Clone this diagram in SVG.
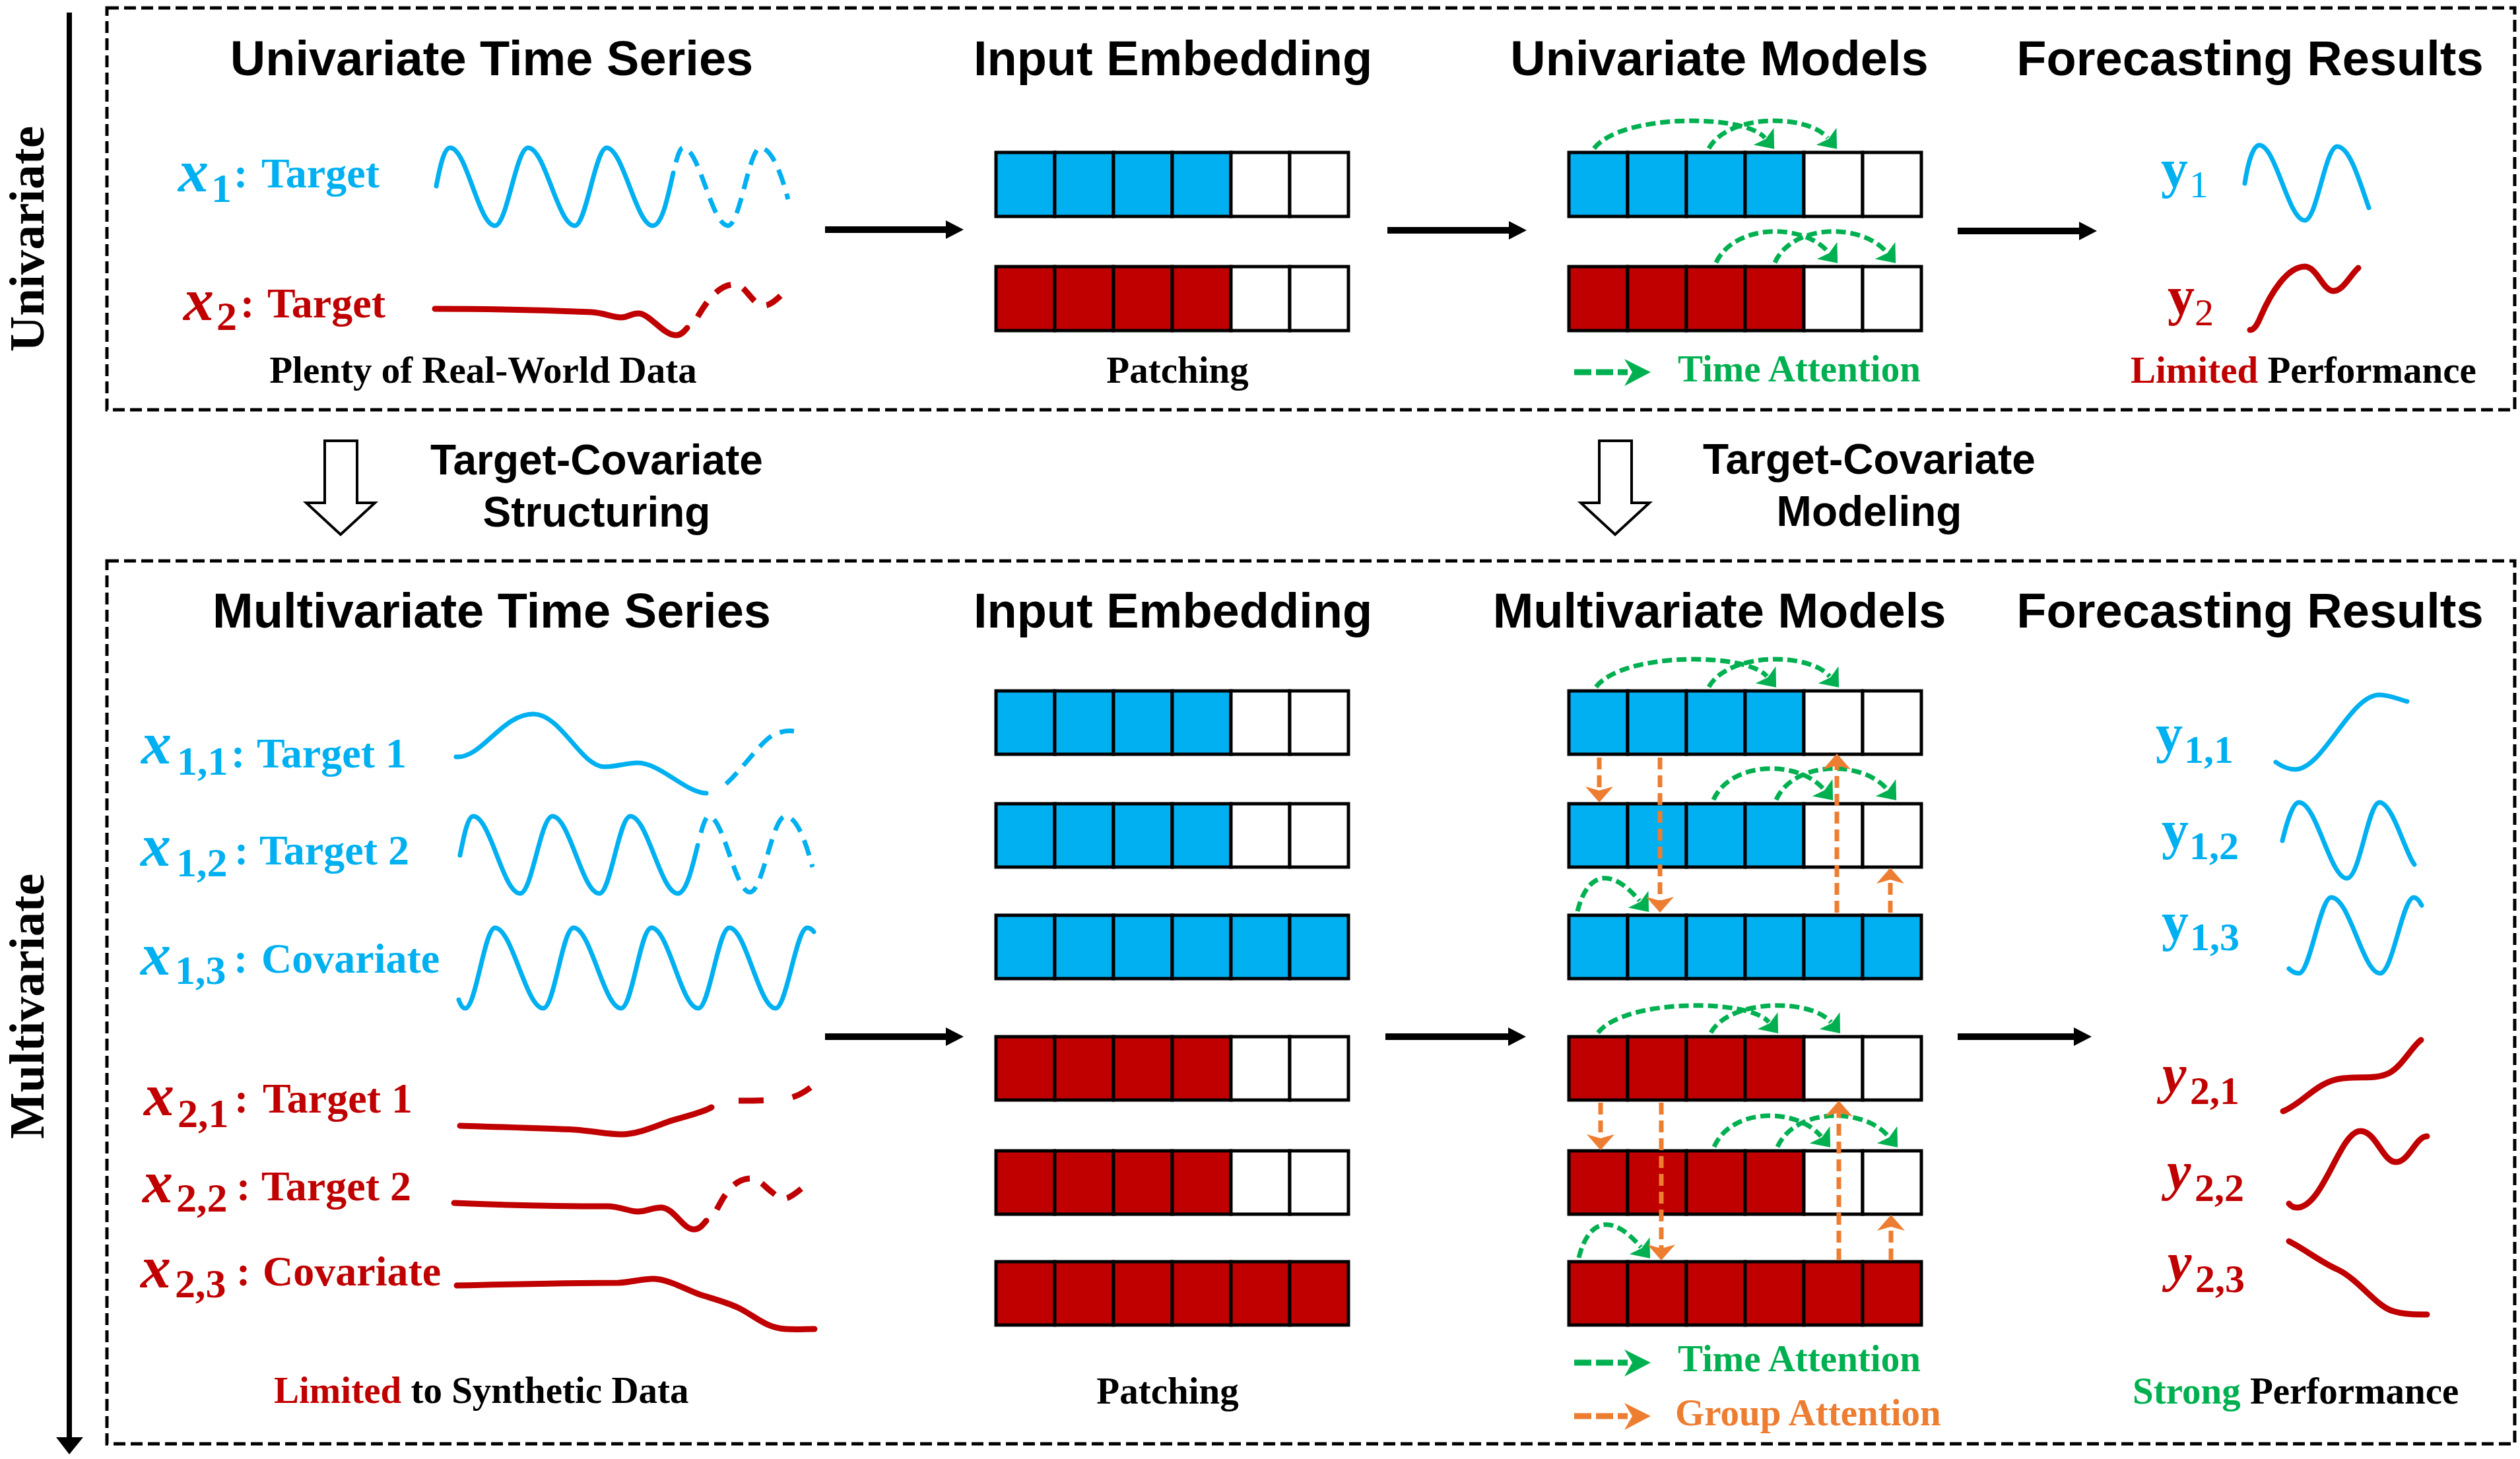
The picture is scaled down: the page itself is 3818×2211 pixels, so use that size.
<svg xmlns="http://www.w3.org/2000/svg" width="3818" height="2211" viewBox="0 0 3818 2211">
<style>
.box{fill:none;stroke:#000;stroke-width:5;stroke-dasharray:18 8}
.h{font-family:"Liberation Sans",Arial,sans-serif;font-weight:bold;font-size:74px;text-anchor:middle;fill:#000}
.m{font-family:"Liberation Sans",Arial,sans-serif;font-weight:bold;font-size:64px;text-anchor:middle;fill:#000}
.t{font-family:"Liberation Serif","Times New Roman",serif;font-weight:bold;font-size:57px;fill:#000}
.side{font-family:"Liberation Serif","Times New Roman",serif;font-weight:bold;font-size:74px;text-anchor:middle;fill:#000}
.lb{font-family:"Liberation Serif","Times New Roman",serif;font-weight:bold;font-size:64px}
.mx{font-family:"Liberation Serif","Times New Roman",serif;font-weight:bold;font-style:italic;font-size:92px}
.sb{font-family:"Liberation Serif","Times New Roman",serif;font-weight:bold;font-size:62px}
.fy{font-family:"Liberation Serif","Times New Roman",serif;font-weight:bold;font-size:82px}
.fyi{font-family:"Liberation Serif","Times New Roman",serif;font-weight:bold;font-style:italic;font-size:82px}
.fs{font-family:"Liberation Serif","Times New Roman",serif;font-weight:bold;font-size:60px}
.fs0{font-family:"Liberation Serif","Times New Roman",serif;font-size:58px}
.blue{fill:#00B0F0}.red{fill:#C00000}.green{fill:#00B050}.orange{fill:#ED7D31}
.cb{fill:#00B0F0;stroke:#000;stroke-width:5}
.cr{fill:#C00000;stroke:#000;stroke-width:5}
.cw{fill:#fff;stroke:#000;stroke-width:5}
.ta{fill:none;stroke:#00B050;stroke-width:7;stroke-dasharray:15 7;marker-end:url(#mg)}
.ga{fill:none;stroke:#ED7D31;stroke-width:7;stroke-dasharray:18 9;marker-end:url(#mo)}
.ar{stroke:#000;stroke-width:10;marker-end:url(#mk)}
.cvb{fill:none;stroke:#00B0F0;stroke-width:7;stroke-linecap:round}
.cvr{fill:none;stroke:#C00000;stroke-width:9;stroke-linecap:round}
.db{fill:none;stroke:#00B0F0;stroke-width:7;stroke-dasharray:24 14}
.dr{fill:none;stroke:#C00000;stroke-width:9;stroke-dasharray:26 20}
.hol{fill:#fff;stroke:#000;stroke-width:4}
</style>
<defs>
<marker id="mg" markerUnits="userSpaceOnUse" viewBox="-30 -30 60 60" markerWidth="60" markerHeight="60" refX="0" refY="0" orient="auto" overflow="visible"><path d="M22,0 L-3,-20 L2,0 L-3,20 Z" fill="#00B050"/></marker>
<marker id="mo" markerUnits="userSpaceOnUse" viewBox="-30 -30 60 60" markerWidth="60" markerHeight="60" refX="0" refY="0" orient="auto" overflow="visible"><path d="M18,0 L-6,-21 L0,0 L-6,21 Z" fill="#ED7D31"/></marker>
<marker id="mk" markerUnits="userSpaceOnUse" viewBox="-30 -30 60 60" markerWidth="60" markerHeight="60" refX="0" refY="0" orient="auto" overflow="visible"><path d="M27,0 L0,-14 L0,14 Z" fill="#000"/></marker>
</defs>
<rect width="3818" height="2211" fill="#fff"/>

<g id="axis">
<line x1="105" y1="19" x2="105" y2="2180" stroke="#000" stroke-width="8"/>
<polygon points="85,2178 126,2178 105,2204" fill="#000"/>
<text class="side" transform="translate(66,362) rotate(-90)" textLength="342" lengthAdjust="spacingAndGlyphs">Univariate</text>
<text class="side" transform="translate(66,1525) rotate(-90)" textLength="402" lengthAdjust="spacingAndGlyphs">Multivariate</text>
</g>

<g id="frames">
<rect class="box" x="162" y="12" width="3648" height="609"/>
<rect class="box" x="162" y="850" width="3648" height="1338"/>
</g>

<g id="titles">
<text class="h" x="745" y="114">Univariate Time Series</text>
<text class="h" x="1777" y="114">Input Embedding</text>
<text class="h" x="2605" y="114">Univariate Models</text>
<text class="h" x="3409" y="114">Forecasting Results</text>
<text class="h" x="745" y="951">Multivariate Time Series</text>
<text class="h" x="1777" y="951">Input Embedding</text>
<text class="h" x="2605" y="951">Multivariate Models</text>
<text class="h" x="3409" y="951">Forecasting Results</text>
</g>

<g id="transition-structuring">
<polygon class="hol" points="492,668 541,668 541,762 568,762 516,810 464,762 492,762"/>
<text class="m" x="904" y="719">Target-Covariate</text>
<text class="m" x="904" y="798">Structuring</text>
</g>
<g id="transition-modeling">
<polygon class="hol" points="2423,668 2472,668 2472,762 2499,762 2447,810 2395,762 2423,762"/>
<text class="m" x="2832" y="718">Target-Covariate</text>
<text class="m" x="2832" y="797">Modeling</text>
</g>

<!-- Univariate series -->
<g id="uni-x1">
<text class="blue"><tspan class="mx" x="270" y="290">x</tspan><tspan class="sb" x="320" y="306">1</tspan><tspan class="lb" x="354" y="284">:</tspan><tspan class="lb" x="396" y="284">Target</tspan></text>
<path class="cvb" d="M661,282 C667,250 673,224 682,224 C707,224 725,342 750,342 C768,342 782,224 800,224 C826,224 845,342 871,342 C888,342 902,224 919,224 C944,224 964,342 989,342 C1004,342 1013,292 1020,262"/>
<path class="db" d="M1024,246 C1028,232 1031,224 1035,224 C1060,224 1078,342 1103,342 C1121,342 1135,224 1152,224 C1170,224 1185,268 1194,302"/>
</g>
<g id="uni-x2">
<text class="red"><tspan class="mx" x="278" y="485">x</tspan><tspan class="sb" x="328" y="500">2</tspan><tspan class="lb" x="364" y="481">:</tspan><tspan class="lb" x="405" y="481">Target</tspan></text>
<path class="cvr" d="M659,468 C720,468 820,470 896,473 C915,474 928,481 941,481 C952,481 958,474 968,475 C985,476 1005,508 1024,508 C1032,508 1037,502 1041,497"/>
<path class="dr" d="M1057,480 C1070,458 1088,431 1113,431 C1130,431 1140,463 1157,463 C1172,463 1182,447 1196,436"/>
</g>
<text id="uni-data-note" class="t" x="732" y="580" text-anchor="middle">Plenty of Real-World Data</text>

<!-- Univariate embedding -->
<g id="uni-emb-1"><rect class="cb" x="1509" y="231" width="89" height="97"/><rect class="cb" x="1598" y="231" width="89" height="97"/><rect class="cb" x="1687" y="231" width="89" height="97"/><rect class="cb" x="1776" y="231" width="89" height="97"/><rect class="cw" x="1865" y="231" width="89" height="97"/><rect class="cw" x="1954" y="231" width="89" height="97"/></g>
<g id="uni-emb-2"><rect class="cr" x="1509" y="404" width="89" height="97"/><rect class="cr" x="1598" y="404" width="89" height="97"/><rect class="cr" x="1687" y="404" width="89" height="97"/><rect class="cr" x="1776" y="404" width="89" height="97"/><rect class="cw" x="1865" y="404" width="89" height="97"/><rect class="cw" x="1954" y="404" width="89" height="97"/></g>
<text id="uni-patching" class="t" x="1784" y="580" text-anchor="middle">Patching</text>

<!-- Univariate models -->
<g id="uni-mod-1"><rect class="cb" x="2377" y="231" width="89" height="97"/><rect class="cb" x="2466" y="231" width="89" height="97"/><rect class="cb" x="2555" y="231" width="89" height="97"/><rect class="cb" x="2644" y="231" width="89" height="97"/><rect class="cw" x="2733" y="231" width="89" height="97"/><rect class="cw" x="2822" y="231" width="89" height="97"/></g>
<g id="uni-mod-2"><rect class="cr" x="2377" y="404" width="89" height="97"/><rect class="cr" x="2466" y="404" width="89" height="97"/><rect class="cr" x="2555" y="404" width="89" height="97"/><rect class="cr" x="2644" y="404" width="89" height="97"/><rect class="cw" x="2733" y="404" width="89" height="97"/><rect class="cw" x="2822" y="404" width="89" height="97"/></g>
<g id="uni-legend">
<line x1="2385" y1="564" x2="2466" y2="564" stroke="#00B050" stroke-width="9" stroke-dasharray="26 7"/>
<polygon points="2501,564 2461,544 2473,564 2461,585" fill="#00B050"/>
<text class="t green" x="2542" y="578">Time Attention</text>
</g>

<!-- Univariate results -->
<g id="uni-y1">
<text class="blue"><tspan class="fy" x="3274" y="283">y</tspan><tspan class="fs0" x="3317" y="299">1</tspan></text>
<path class="cvb" d="M3401,278 C3406,245 3414,220 3423,220 C3448,220 3467,334 3492,334 C3510,334 3523,222 3541,222 C3560,222 3575,275 3589,315"/>
</g>
<g id="uni-y2">
<text class="red"><tspan class="fy" x="3284" y="476">y</tspan><tspan class="fs0" x="3325" y="493">2</tspan></text>
<path class="cvr" d="M3409,500 C3415,500 3420,492 3425,480 C3440,445 3465,404 3492,404 C3510,404 3520,441 3535,441 C3550,441 3560,418 3573,406"/>
</g>
<text id="uni-perf" class="t" x="3228" y="580"><tspan class="red">Limited</tspan> Performance</text>

<!-- Multivariate series -->
<g id="mv-x11">
<text class="blue"><tspan class="mx" x="214" y="1157">x</tspan><tspan class="sb" x="268" y="1174">1,1</tspan><tspan class="lb" x="350" y="1163">:</tspan><tspan class="lb" x="389" y="1163">Target 1</tspan></text>
<path class="cvb" d="M691,1147 C730,1150 760,1082 808,1082 C850,1082 880,1162 916,1162 C935,1162 950,1156 966,1156 C1000,1156 1040,1202 1070,1202"/>
<path class="db" d="M1100,1188 C1130,1160 1155,1120 1175,1112 C1185,1108 1195,1107 1203,1108"/>
</g>
<g id="mv-x12">
<text class="blue"><tspan class="mx" x="213" y="1312">x</tspan><tspan class="sb" x="267" y="1328">1,2</tspan><tspan class="lb" x="355" y="1310">:</tspan><tspan class="lb" x="393" y="1310">Target 2</tspan></text>
<path class="cvb" d="M697,1296 C703,1265 709,1237 717,1237 C743,1237 762,1354 788,1354 C806,1354 819,1237 837,1237 C863,1237 882,1354 908,1354 C925,1354 938,1237 955,1237 C981,1237 1001,1354 1027,1354 C1040,1354 1050,1310 1057,1281"/>
<path class="db" d="M1062,1262 C1066,1247 1070,1237 1074,1237 C1096,1237 1114,1352 1136,1352 C1156,1352 1170,1237 1190,1237 C1208,1237 1222,1280 1231,1314"/>
</g>
<g id="mv-x13">
<text class="blue"><tspan class="mx" x="213" y="1477">x</tspan><tspan class="sb" x="265" y="1491">1,3</tspan><tspan class="lb" x="354" y="1474">:</tspan><tspan class="lb" x="396" y="1474">Covariate</tspan></text>
<path class="cvb" d="M695,1515 C698,1524 701,1528 705,1528 C721,1528 734,1406 750,1406 C776,1406 797,1528 823,1528 C840,1528 852,1406 869,1406 C895,1406 915,1528 941,1528 C958,1528 970,1406 987,1406 C1013,1406 1032,1528 1058,1528 C1075,1528 1088,1406 1105,1406 C1130,1406 1150,1528 1175,1528 C1192,1528 1206,1406 1223,1406 C1227,1406 1230,1408 1233,1412"/>
</g>
<g id="mv-x21">
<text class="red"><tspan class="mx" x="218" y="1690">x</tspan><tspan class="sb" x="269" y="1708">2,1</tspan><tspan class="lb" x="355" y="1686">:</tspan><tspan class="lb" x="398" y="1686">Target 1</tspan></text>
<path class="cvr" d="M697,1706 C760,1708 830,1710 871,1712 C900,1714 920,1719 941,1719 C965,1719 990,1708 1012,1700 C1035,1692 1060,1688 1078,1678"/>
<path class="dr" style="stroke-dasharray:38 44" d="M1119,1668 C1140,1668 1180,1668 1200,1663 C1210,1660 1220,1654 1228,1648"/>
</g>
<g id="mv-x22">
<text class="red"><tspan class="mx" x="216" y="1822">x</tspan><tspan class="sb" x="267" y="1836">2,2</tspan><tspan class="lb" x="358" y="1819">:</tspan><tspan class="lb" x="396" y="1819">Target 2</tspan></text>
<path class="cvr" d="M688,1823 C760,1826 850,1828 920,1828 C940,1828 952,1836 966,1836 C980,1836 990,1829 1003,1830 C1022,1832 1035,1863 1051,1863 C1060,1863 1065,1856 1070,1850"/>
<path class="dr" d="M1086,1833 C1097,1812 1110,1788 1135,1786 C1150,1785 1160,1800 1169,1806 C1178,1814 1184,1817 1190,1816 C1200,1815 1215,1800 1228,1790"/>
</g>
<g id="mv-x23">
<text class="red"><tspan class="mx" x="213" y="1951">x</tspan><tspan class="sb" x="265" y="1966">2,3</tspan><tspan class="lb" x="358" y="1948">:</tspan><tspan class="lb" x="398" y="1948">Covariate</tspan></text>
<path class="cvr" d="M692,1948 C780,1946 880,1944 937,1944 C960,1943 975,1937 991,1938 C1015,1939 1040,1955 1061,1962 C1080,1968 1100,1973 1119,1982 C1145,1995 1160,2012 1190,2014 C1205,2015 1220,2014 1234,2014"/>
</g>
<text id="mv-data-note" class="t" x="415" y="2126"><tspan class="red">Limited</tspan> to Synthetic Data</text>

<!-- Multivariate embedding -->
<g id="mv-emb-1"><rect class="cb" x="1509" y="1047" width="89" height="96"/><rect class="cb" x="1598" y="1047" width="89" height="96"/><rect class="cb" x="1687" y="1047" width="89" height="96"/><rect class="cb" x="1776" y="1047" width="89" height="96"/><rect class="cw" x="1865" y="1047" width="89" height="96"/><rect class="cw" x="1954" y="1047" width="89" height="96"/></g>
<g id="mv-emb-2"><rect class="cb" x="1509" y="1218" width="89" height="96"/><rect class="cb" x="1598" y="1218" width="89" height="96"/><rect class="cb" x="1687" y="1218" width="89" height="96"/><rect class="cb" x="1776" y="1218" width="89" height="96"/><rect class="cw" x="1865" y="1218" width="89" height="96"/><rect class="cw" x="1954" y="1218" width="89" height="96"/></g>
<g id="mv-emb-3"><rect class="cb" x="1509" y="1387" width="89" height="96"/><rect class="cb" x="1598" y="1387" width="89" height="96"/><rect class="cb" x="1687" y="1387" width="89" height="96"/><rect class="cb" x="1776" y="1387" width="89" height="96"/><rect class="cb" x="1865" y="1387" width="89" height="96"/><rect class="cb" x="1954" y="1387" width="89" height="96"/></g>
<g id="mv-emb-4"><rect class="cr" x="1509" y="1571" width="89" height="96"/><rect class="cr" x="1598" y="1571" width="89" height="96"/><rect class="cr" x="1687" y="1571" width="89" height="96"/><rect class="cr" x="1776" y="1571" width="89" height="96"/><rect class="cw" x="1865" y="1571" width="89" height="96"/><rect class="cw" x="1954" y="1571" width="89" height="96"/></g>
<g id="mv-emb-5"><rect class="cr" x="1509" y="1744" width="89" height="96"/><rect class="cr" x="1598" y="1744" width="89" height="96"/><rect class="cr" x="1687" y="1744" width="89" height="96"/><rect class="cr" x="1776" y="1744" width="89" height="96"/><rect class="cw" x="1865" y="1744" width="89" height="96"/><rect class="cw" x="1954" y="1744" width="89" height="96"/></g>
<g id="mv-emb-6"><rect class="cr" x="1509" y="1912" width="89" height="96"/><rect class="cr" x="1598" y="1912" width="89" height="96"/><rect class="cr" x="1687" y="1912" width="89" height="96"/><rect class="cr" x="1776" y="1912" width="89" height="96"/><rect class="cr" x="1865" y="1912" width="89" height="96"/><rect class="cr" x="1954" y="1912" width="89" height="96"/></g>
<text id="mv-patching" class="t" x="1769" y="2127" text-anchor="middle">Patching</text>

<!-- Multivariate models -->
<g id="mv-mod-1"><rect class="cb" x="2377" y="1047" width="89" height="96"/><rect class="cb" x="2466" y="1047" width="89" height="96"/><rect class="cb" x="2555" y="1047" width="89" height="96"/><rect class="cb" x="2644" y="1047" width="89" height="96"/><rect class="cw" x="2733" y="1047" width="89" height="96"/><rect class="cw" x="2822" y="1047" width="89" height="96"/></g>
<g id="mv-mod-2"><rect class="cb" x="2377" y="1218" width="89" height="96"/><rect class="cb" x="2466" y="1218" width="89" height="96"/><rect class="cb" x="2555" y="1218" width="89" height="96"/><rect class="cb" x="2644" y="1218" width="89" height="96"/><rect class="cw" x="2733" y="1218" width="89" height="96"/><rect class="cw" x="2822" y="1218" width="89" height="96"/></g>
<g id="mv-mod-3"><rect class="cb" x="2377" y="1387" width="89" height="96"/><rect class="cb" x="2466" y="1387" width="89" height="96"/><rect class="cb" x="2555" y="1387" width="89" height="96"/><rect class="cb" x="2644" y="1387" width="89" height="96"/><rect class="cb" x="2733" y="1387" width="89" height="96"/><rect class="cb" x="2822" y="1387" width="89" height="96"/></g>
<g id="mv-mod-4"><rect class="cr" x="2377" y="1571" width="89" height="96"/><rect class="cr" x="2466" y="1571" width="89" height="96"/><rect class="cr" x="2555" y="1571" width="89" height="96"/><rect class="cr" x="2644" y="1571" width="89" height="96"/><rect class="cw" x="2733" y="1571" width="89" height="96"/><rect class="cw" x="2822" y="1571" width="89" height="96"/></g>
<g id="mv-mod-5"><rect class="cr" x="2377" y="1744" width="89" height="96"/><rect class="cr" x="2466" y="1744" width="89" height="96"/><rect class="cr" x="2555" y="1744" width="89" height="96"/><rect class="cr" x="2644" y="1744" width="89" height="96"/><rect class="cw" x="2733" y="1744" width="89" height="96"/><rect class="cw" x="2822" y="1744" width="89" height="96"/></g>
<g id="mv-mod-6"><rect class="cr" x="2377" y="1912" width="89" height="96"/><rect class="cr" x="2466" y="1912" width="89" height="96"/><rect class="cr" x="2555" y="1912" width="89" height="96"/><rect class="cr" x="2644" y="1912" width="89" height="96"/><rect class="cr" x="2733" y="1912" width="89" height="96"/><rect class="cr" x="2822" y="1912" width="89" height="96"/></g>
<g id="mv-legend">
<line x1="2385" y1="2065" x2="2466" y2="2065" stroke="#00B050" stroke-width="9" stroke-dasharray="26 7"/>
<polygon points="2501,2065 2461,2045 2473,2065 2461,2086" fill="#00B050"/>
<text class="t green" x="2542" y="2078">Time Attention</text>
<line x1="2385" y1="2146" x2="2466" y2="2146" stroke="#ED7D31" stroke-width="9" stroke-dasharray="26 7"/>
<polygon points="2501,2146 2461,2126 2473,2146 2461,2167" fill="#ED7D31"/>
<text class="t orange" x="2538" y="2160">Group Attention</text>
</g>

<!-- Multivariate results -->
<g id="mv-y11"><text class="blue"><tspan class="fy" x="3266" y="1139">y</tspan><tspan class="fs" x="3309" y="1156">1,1</tspan></text>
<path class="cvb" d="M3448,1155 C3458,1162 3467,1166 3477,1166 C3520,1166 3560,1053 3605,1053 C3620,1053 3635,1060 3647,1063"/></g>
<g id="mv-y12"><text class="blue"><tspan class="fy" x="3275" y="1285">y</tspan><tspan class="fs" x="3317" y="1302">1,2</tspan></text>
<path class="cvb" d="M3458,1274 C3465,1245 3474,1216 3483,1216 C3510,1216 3530,1331 3556,1331 C3575,1331 3588,1216 3605,1216 C3625,1216 3645,1295 3658,1310"/></g>
<g id="mv-y13"><text class="blue"><tspan class="fy" x="3275" y="1424">y</tspan><tspan class="fs" x="3318" y="1440">1,3</tspan></text>
<path class="cvb" d="M3468,1468 C3473,1473 3478,1475 3483,1475 C3500,1475 3515,1360 3532,1360 C3560,1360 3580,1475 3606,1475 C3625,1475 3640,1360 3657,1360 C3662,1360 3666,1366 3669,1372"/></g>
<g id="mv-y21"><text class="red"><tspan class="fyi" x="3276" y="1655">y</tspan><tspan class="fs" x="3318" y="1673">2,1</tspan></text>
<path class="cvr" d="M3459,1684 C3490,1672 3510,1638 3550,1634 C3580,1631 3600,1636 3620,1626 C3640,1615 3655,1585 3668,1576"/></g>
<g id="mv-y22"><text class="red"><tspan class="fyi" x="3283" y="1802">y</tspan><tspan class="fs" x="3325" y="1820">2,2</tspan></text>
<path class="cvr" d="M3468,1824 C3472,1829 3476,1830 3480,1830 C3520,1830 3545,1714 3576,1714 C3600,1714 3610,1761 3630,1761 C3650,1761 3660,1722 3677,1722"/></g>
<g id="mv-y23"><text class="red"><tspan class="fyi" x="3284" y="1940">y</tspan><tspan class="fs" x="3326" y="1958">2,3</tspan></text>
<path class="cvr" d="M3468,1881 C3495,1895 3515,1912 3542,1924 C3575,1940 3600,1980 3626,1987 C3645,1993 3665,1992 3677,1992"/></g>
<text id="mv-perf" class="t" x="3231" y="2127"><tspan class="green">Strong</tspan> Performance</text>

<g id="connectors">
<line class="ar" x1="1250" y1="348" x2="1433" y2="348"/>
<line class="ar" x1="2102" y1="349" x2="2286" y2="349"/>
<line class="ar" x1="2966" y1="350" x2="3150" y2="350"/>
<line class="ar" x1="1250" y1="1571" x2="1433" y2="1571"/>
<line class="ar" x1="2099" y1="1571" x2="2285" y2="1571"/>
<line class="ar" x1="2966" y1="1571" x2="3142" y2="1571"/>
<!-- time attention arcs -->
<path class="ta" d="M2415,225 C2456,172 2643,172 2674,209"/>
<path class="ta" d="M2589,225 C2618,172 2738,172 2769,209"/>
<path class="ta" d="M2600,398 C2628,338 2733,338 2770,382"/>
<path class="ta" d="M2689,398 C2716,338 2821,338 2858,382"/>
<path class="ta" d="M2418,1041 C2459,988 2646,988 2677,1025"/>
<path class="ta" d="M2589,1041 C2619,988 2741,988 2772,1025"/>
<path class="ta" d="M2596,1212 C2623,1152 2726,1152 2763,1196"/>
<path class="ta" d="M2691,1212 C2718,1152 2822,1152 2859,1196"/>
<path class="ta" d="M2390,1381 C2406,1317 2444,1317 2484,1365"/>
<path class="ta" d="M2421,1565 C2462,1513 2650,1513 2680,1549"/>
<path class="ta" d="M2592,1565 C2621,1513 2744,1513 2774,1549"/>
<path class="ta" d="M2597,1738 C2623,1678 2722,1678 2759,1722"/>
<path class="ta" d="M2693,1738 C2720,1678 2824,1678 2861,1722"/>
<path class="ta" d="M2392,1906 C2408,1842 2446,1842 2486,1890"/>
<!-- group attention -->
<line class="ga" x1="2423" y1="1148" x2="2423" y2="1198"/>
<line class="ga" x1="2515" y1="1148" x2="2515" y2="1365"/>
<line class="ga" x1="2783" y1="1383" x2="2783" y2="1160"/>
<line class="ga" x1="2864" y1="1383" x2="2864" y2="1333"/>
<line class="ga" x1="2425" y1="1671" x2="2425" y2="1725"/>
<line class="ga" x1="2517" y1="1671" x2="2517" y2="1892"/>
<line class="ga" x1="2786" y1="1910" x2="2786" y2="1686"/>
<line class="ga" x1="2865" y1="1910" x2="2865" y2="1859"/>
</g>
</svg>
